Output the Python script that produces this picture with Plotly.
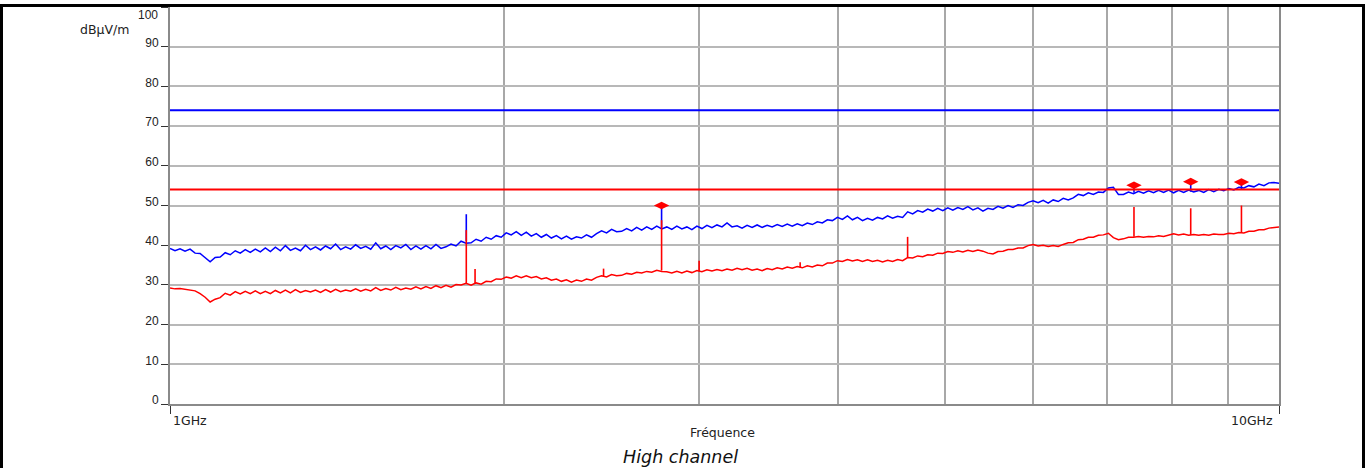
import numpy as np
import plotly.graph_objects as go

# Sweep: 1 GHz to 10 GHz, log-spaced points
SWEEP_START_GHZ = 1.0
SWEEP_STOP_GHZ = 10.0

# Peak detector trace (dBµV/m)
PEAK_LEVEL = [
    39.2, 38.6, 39.1, 38.5, 39.0, 38.0, 37.9, 36.8, 35.8, 36.9,
    37.0, 38.1, 37.6, 38.6, 38.0, 38.9, 38.2, 39.0, 38.3, 39.3,
    38.4, 39.5, 38.6, 39.9, 38.7, 39.3, 38.6, 40.0, 38.9, 39.6,
    38.8, 39.8, 39.1, 40.3, 38.9, 39.6, 39.0, 40.1, 39.2, 39.7,
    39.0, 40.6, 39.1, 39.8, 38.9, 39.9, 39.3, 40.2, 38.9, 39.8,
    39.0, 39.9, 39.1, 40.2, 39.2, 39.6, 40.3, 39.8, 41.0, 40.5,
    40.6, 41.5, 41.0, 42.0, 41.5, 42.4, 42.0, 43.1, 42.6, 43.4,
    42.5, 43.3, 42.3, 42.9, 42.0, 42.7, 41.8, 42.4, 41.6, 42.3,
    41.5, 42.1, 41.8, 42.6, 42.0, 42.9, 43.6, 43.1, 44.0, 43.4,
    43.5, 44.2, 43.6, 44.5, 43.8, 44.6, 44.0, 44.8, 44.1, 44.6,
    44.0, 44.8, 44.1, 44.6, 43.9, 44.8, 44.2, 45.0, 44.4, 45.1,
    44.6, 45.6, 44.6, 44.9, 44.3, 45.0, 44.5, 45.1, 44.5, 45.0,
    44.6, 45.2, 44.7, 45.3, 44.8, 45.4, 44.9, 45.6, 45.2, 45.9,
    45.6, 46.4, 46.2, 47.0, 46.5, 47.4, 46.4, 47.0, 46.2, 46.8,
    46.3, 47.0, 46.6, 47.4, 46.8, 47.3, 47.0, 48.4, 47.9, 48.7,
    48.3, 49.1, 48.6, 49.3, 48.7, 49.4, 48.8, 49.5, 49.0, 49.7,
    48.9, 49.4, 48.6, 49.3, 49.0, 49.8, 49.3, 50.0, 49.5, 50.2,
    50.0, 50.8, 51.2, 50.7, 51.3, 50.6, 51.4, 51.0, 51.8, 51.4,
    51.9, 52.8, 52.5, 53.2, 52.8, 53.4, 53.3, 54.4, 54.6, 52.8,
    52.8, 53.4, 53.0, 53.6, 53.1, 53.7, 53.2, 53.8, 53.3, 53.9,
    53.2, 53.8, 53.3, 53.9, 53.4, 53.8, 53.3, 54.0, 53.5, 54.1,
    53.7, 54.3, 53.9, 54.6, 54.4, 55.0, 54.7, 55.4, 55.0, 55.7,
    55.8, 55.6,
]

# Average detector trace (dBµV/m)
AVG_LEVEL = [
    29.2, 29.0, 29.1, 28.9, 28.8, 28.5, 27.8, 26.9, 25.7, 26.4,
    26.8, 27.9, 27.4, 28.3, 27.7, 28.4, 27.8, 28.5, 27.8, 28.4,
    27.8, 28.6, 28.0, 28.7, 28.0, 28.8, 28.1, 28.6, 28.2, 28.7,
    28.1, 28.8, 28.2, 28.9, 28.3, 28.7, 28.4, 29.0, 28.4, 28.9,
    28.5, 29.3, 28.6, 29.1, 28.7, 29.4, 28.8, 29.2, 28.9, 29.5,
    29.0, 29.6, 29.1, 29.8, 29.3, 29.9, 29.4, 30.1, 30.0, 30.4,
    29.9, 30.5, 30.2, 30.9, 30.8, 31.5, 31.4, 32.0, 31.7, 32.3,
    31.8, 32.3, 31.8, 32.1, 31.5, 31.8, 31.2, 31.5, 30.9, 31.3,
    30.7, 31.2, 30.9, 31.5, 31.2, 31.9, 32.3, 32.0, 32.6, 32.3,
    32.4, 32.9, 32.7, 33.2, 33.0, 33.4, 33.2, 33.7, 33.4, 33.3,
    33.0, 33.4, 33.0, 33.5, 33.1, 33.6, 33.3, 33.8, 33.5, 33.9,
    33.6, 34.0, 33.7, 34.2, 33.8, 34.2, 33.7, 34.0, 33.6, 34.1,
    33.8, 34.3, 34.0, 34.5, 34.2, 34.6, 34.3, 34.8, 34.5, 35.0,
    34.8, 35.5, 35.5, 36.1, 35.9, 36.4, 36.0, 36.3, 35.9, 36.3,
    35.9, 36.2, 35.8, 36.2, 35.9, 36.4, 36.1, 36.9, 36.8, 37.3,
    37.1, 37.6, 37.5, 38.0, 37.9, 38.4, 38.2, 38.6, 38.3, 38.7,
    38.4, 38.8, 38.5, 38.0, 37.8, 38.4, 38.5, 38.9, 38.9, 39.3,
    39.3, 39.9, 40.2, 39.8, 40.0, 39.7, 39.9, 39.7, 40.2, 40.6,
    40.7, 41.4, 41.5, 42.0, 42.0, 42.5, 42.6, 43.0, 41.9, 41.4,
    41.6, 42.0, 42.0, 42.2, 42.0, 42.2, 42.1, 42.4, 42.2, 42.5,
    42.9, 42.6, 42.8, 42.5, 42.7, 42.5, 42.7, 42.5, 42.8, 42.7,
    42.7, 43.0, 42.9, 43.2, 43.1, 43.5, 43.5, 43.9, 43.9, 44.3,
    44.4, 44.6,
]

# Narrow emissions (GHz): floor and top of each line
PEAK_SPIKE_FREQ = [1.85, 2.775, 7.40, 8.325, 9.25]
PEAK_SPIKE_FLOOR = [41.0, 44.4, 53.2, 53.5, 54.0]
PEAK_SPIKE_TOP = [47.8, 50.0, 55.1, 56.0, 55.9]

AVG_SPIKE_FREQ = [1.85, 1.884, 2.46, 2.775, 3.0, 3.70, 4.625, 7.40, 8.325, 9.25]
AVG_SPIKE_FLOOR = [30.3, 30.2, 32.0, 33.6, 33.4, 34.4, 36.9, 42.1, 42.6, 43.2]
AVG_SPIKE_TOP = [43.8, 34.0, 34.1, 46.3, 36.1, 35.7, 42.1, 49.6, 49.3, 50.0]

# Final measurement points
MARKER_FREQ = [2.775, 7.40, 8.325, 9.25]
MARKER_LEVEL = [50.0, 55.1, 56.0, 55.9]

# Limits (dBµV/m)
LIMIT_PEAK = 74
LIMIT_AVG = 54

Y_TICKS = [0, 10, 20, 30, 40, 50, 60, 70, 80, 90, 100]
Y_TICK_TEXT = ["0", "10", "20", "30", "40", "50", "60", "70", "80", "90", ""]
X_MINOR_GRID = [2, 3, 4, 5, 6, 7, 8, 9]
X_TICKS = [1, 10]
X_TICK_TEXT = ["1GHz", "10GHz"]

BLUE = "#0000ff"
RED = "#ff0000"

freq = np.geomspace(SWEEP_START_GHZ, SWEEP_STOP_GHZ, len(PEAK_LEVEL))


def spike_segments(f, lo, hi):
    xs, ys = [], []
    for a, b, c in zip(f, lo, hi):
        xs += [a, a, None]
        ys += [b, c, None]
    return xs, ys


fig = go.Figure()

fig.add_trace(go.Scatter(
    x=[SWEEP_START_GHZ, SWEEP_STOP_GHZ], y=[LIMIT_PEAK, LIMIT_PEAK],
    mode="lines", line=dict(color=BLUE, width=2), hoverinfo="skip"))

fig.add_trace(go.Scatter(
    x=freq, y=PEAK_LEVEL, mode="lines",
    line=dict(color=BLUE, width=1.5), hoverinfo="skip"))
sx, sy = spike_segments(PEAK_SPIKE_FREQ, PEAK_SPIKE_FLOOR, PEAK_SPIKE_TOP)
fig.add_trace(go.Scatter(x=sx, y=sy, mode="lines",
                         line=dict(color=BLUE, width=1.6), hoverinfo="skip"))

fig.add_trace(go.Scatter(
    x=freq, y=AVG_LEVEL, mode="lines",
    line=dict(color=RED, width=1.5), hoverinfo="skip"))
sx, sy = spike_segments(AVG_SPIKE_FREQ, AVG_SPIKE_FLOOR, AVG_SPIKE_TOP)
fig.add_trace(go.Scatter(x=sx, y=sy, mode="lines",
                         line=dict(color=RED, width=1.6), hoverinfo="skip"))

fig.add_trace(go.Scatter(
    x=[SWEEP_START_GHZ, SWEEP_STOP_GHZ], y=[LIMIT_AVG, LIMIT_AVG],
    mode="lines", line=dict(color=RED, width=2), hoverinfo="skip"))

fig.add_trace(go.Scatter(
    x=MARKER_FREQ, y=MARKER_LEVEL, mode="markers",
    marker=dict(symbol="diamond-wide", size=11, color=RED,
                line=dict(width=0)),
    hoverinfo="skip"))

tick_font = dict(family="Liberation Sans, Arial, sans-serif", size=12, color="#222222")
label_font = dict(family="DejaVu Sans, sans-serif", size=12.5, color="#222222")

fig.update_layout(
    width=1367, height=468,
    margin=dict(l=170, r=88, t=5, b=64),
    paper_bgcolor="white", plot_bgcolor="white",
    showlegend=False,
    font=tick_font,
    xaxis=dict(
        type="log", range=[0, 1],
        tickvals=X_TICKS, showticklabels=False,
        ticks="outside", ticklen=8, tickwidth=1, tickcolor="#333333",
        showgrid=True, gridcolor="#a8a8a8", gridwidth=1.5,
        minor=dict(tickvals=X_MINOR_GRID, showgrid=True,
                   gridcolor="#a8a8a8", gridwidth=1.5, ticks=""),
        showline=True, mirror=True, linecolor="#8a8a8a", linewidth=2,
        zeroline=False,
    ),
    yaxis=dict(
        range=[0, 100],
        tickvals=Y_TICKS, ticktext=Y_TICK_TEXT,
        ticks="outside", ticklen=7, tickwidth=1, tickcolor="#333333",
        ticklabelshift=-4,
        tickfont=tick_font,
        showgrid=True, gridcolor="#b8b8b8", gridwidth=1.5,
        showline=True, mirror=True, linecolor="#8a8a8a", linewidth=2,
        zeroline=False,
    ),
)

PW, PH = 1109.0, 399.0


def px_x(p):
    return (p - 170) / PW


def px_y(p):
    return (404 - p) / PH


annotations = [
    dict(text=X_TICK_TEXT[0], x=px_x(171), y=px_y(421), xanchor="left",
         yanchor="middle", font=label_font),
    dict(text=X_TICK_TEXT[1], x=px_x(1275), y=px_y(421), xanchor="right",
         yanchor="middle", font=label_font),
    dict(text="100", x=px_x(160), y=px_y(13), xanchor="right",
         yanchor="middle", font=tick_font),
    dict(text="dBµV/m", x=px_x(104), y=px_y(28), xanchor="center",
         yanchor="middle", font=label_font),
    dict(text="Fréquence", x=px_x(722), y=px_y(433), xanchor="center",
         yanchor="middle", font=label_font),
    dict(text="<i>High channel</i>", x=px_x(680), y=px_y(457), xanchor="center",
         yanchor="middle", font=dict(family="DejaVu Sans, sans-serif", size=17.5, color="#111111")),
]
for a in annotations:
    a.update(xref="paper", yref="paper", showarrow=False)
fig.update_layout(annotations=annotations)

# Outer frame of the page
fig.add_shape(type="rect", xref="paper", yref="paper",
              x0=px_x(1.5), x1=px_x(1363.5), y0=px_y(480), y1=px_y(3.5),
              line=dict(color="black", width=3), fillcolor="rgba(0,0,0,0)",
              layer="above")

fig.write_html("out.html")
